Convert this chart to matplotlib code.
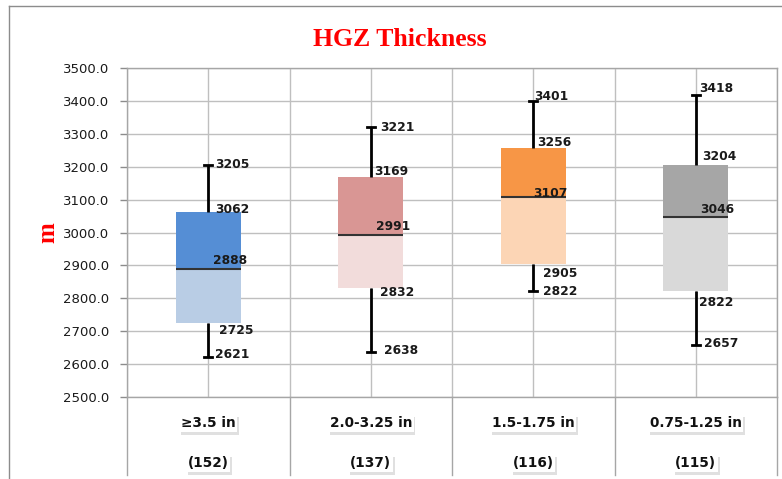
import matplotlib
matplotlib.use("Agg")
import matplotlib.pyplot as plt
import matplotlib.patheffects as pe
from matplotlib.lines import Line2D
from matplotlib.ticker import MultipleLocator, FormatStrFormatter

# ---------------- data ----------------
categories = ["\u22653.5 in", "2.0-3.25 in", "1.5-1.75 in", "0.75-1.25 in"]
counts = ["(152)", "(137)", "(116)", "(115)"]
mins = [2621, 2638, 2822, 2657]
q1s = [2725, 2832, 2905, 2822]
medians = [2888, 2991, 3107, 3046]
q3s = [3062, 3169, 3256, 3204]
maxs = [3205, 3321, 3401, 3418]          # whisker ends as drawn
max_labels = ["3205", "3221", "3401", "3418"]  # labels as printed
dark_colors = ["#558ED5", "#D99694", "#F79646", "#A6A6A6"]
light_colors = ["#B9CDE5", "#F2DCDB", "#FCD5B5", "#D9D9D9"]

# label offsets in pixels (dx right, dy up) per category: max, q3, median, q1, min
offsets = [
    [(7, 2), (7, 3.5), (4.5, 10), (11, -7), (7, 4)],
    [(9, 0), (3, 6), (5, 10), (9, -4), (13, 2.5)],
    [(1, 5.5), (4, 6.6), (0, 5), (10, -8.7), (10, 1)],
    [(3, 7.5), (6, 9.4), (4, 8.4), (3, -10.5), (8, 3)],
]

W, H = 782, 479
fig = plt.figure(figsize=(W / 100, H / 100), dpi=100)
ax = fig.add_axes([127 / W, (H - 397) / H, 650 / W, 329 / H])

ax.set_xlim(0, len(categories))
ax.set_ylim(2500, 3500)
ax.yaxis.set_major_locator(MultipleLocator(100))
ax.yaxis.set_major_formatter(FormatStrFormatter("%.1f"))
ax.set_xticks([i * 0.5 for i in range(2 * len(categories) + 1)])
ax.set_xticklabels([])
ax.tick_params(axis="x", length=0)
ax.tick_params(axis="y", length=5, width=1, color="#8c8c8c", pad=8,
               labelsize=9.5, labelcolor="#1a1a1a")
for lab in ax.get_yticklabels():
    lab.set_family("DejaVu Sans")
ax.grid(True, color="#BFBFBF", linewidth=1)
ax.set_axisbelow(True)
for s in ax.spines.values():
    s.set_color("#A6A6A6")
    s.set_linewidth(1)

bw = 0.4
cap = 0.025
lbl_font = dict(fontsize=8.8, fontweight="bold", color="#1a1a1a", family="DejaVu Sans")
cap_px = 0.729 * 12.2 / 2
for i in range(len(categories)):
    c = i + 0.5
    ax.bar(c, medians[i] - q1s[i], bottom=q1s[i], width=bw, color=light_colors[i], zorder=3)
    ax.bar(c, q3s[i] - medians[i], bottom=medians[i], width=bw, color=dark_colors[i], zorder=3)
    ax.plot([c - bw / 2, c + bw / 2], [medians[i], medians[i]], color="#333333", lw=1.5, zorder=4,
            solid_capstyle="butt")
    ax.plot([c, c], [q3s[i], maxs[i]], color="black", lw=2, zorder=4, solid_capstyle="butt")
    ax.plot([c, c], [mins[i], q1s[i]], color="black", lw=2, zorder=4, solid_capstyle="butt")
    ax.plot([c - cap, c + cap], [maxs[i], maxs[i]], color="black", lw=2, zorder=4)
    ax.plot([c - cap, c + cap], [mins[i], mins[i]], color="black", lw=2, zorder=4)
    vals = [maxs[i], q3s[i], medians[i], q1s[i], mins[i]]
    texts = [max_labels[i], str(q3s[i]), str(medians[i]), str(q1s[i]), str(mins[i])]
    for (dx, dy), v, t in zip(offsets[i], vals, texts):
        ax.annotate(t, (c, v), xytext=(dx * 0.72, (dy - cap_px) * 0.72),
                    textcoords="offset points", ha="left", va="baseline",
                    zorder=5, **lbl_font)

# category table below the axis
trans = ax.get_xaxis_transform()
y_bot = -(475 - 397) / 329
for xb in range(len(categories) + 1):
    ax.add_line(Line2D([xb, xb], [0, y_bot], transform=trans, color="#A6A6A6",
                       lw=1, clip_on=False))
shadow = [pe.withSimplePatchShadow(offset=(1.2, -2.2), shadow_rgbFace="#c8c8c8", alpha=0.55), pe.Normal()]
for i in range(len(categories)):
    for txt, yy in ((categories[i], -(423 - 397) / 329), (counts[i], -(463 - 397) / 329)):
        t = ax.text(i + 0.5, yy, txt, transform=trans, ha="center", va="center",
                    fontsize=9.8, fontweight="bold", color="#111111", family="DejaVu Sans",
                    bbox=dict(boxstyle="square,pad=0.12", fc="white", ec="none"))
        t.get_bbox_patch().set_path_effects(shadow)

# title and y label
fig.text(400 / W, 1 - 40 / H, "HGZ Thickness", ha="center", va="center",
         fontsize=18.5, fontweight="bold", color="#FF0000", family="Liberation Serif")
fig.text(48 / W, 1 - 233 / H, "m", ha="center", va="center", rotation=90,
         fontsize=18, fontweight="bold", color="#FF0000", family="Liberation Serif")

# outer chart frame (top and left visible)
fig.add_artist(Line2D([9 / W, 1], [1 - 6 / H, 1 - 6 / H], transform=fig.transFigure,
                      color="#8c8c8c", lw=1))
fig.add_artist(Line2D([9 / W, 9 / W], [0, 1 - 6 / H], transform=fig.transFigure,
                      color="#8c8c8c", lw=1))

fig.savefig("out.png", dpi=100)
